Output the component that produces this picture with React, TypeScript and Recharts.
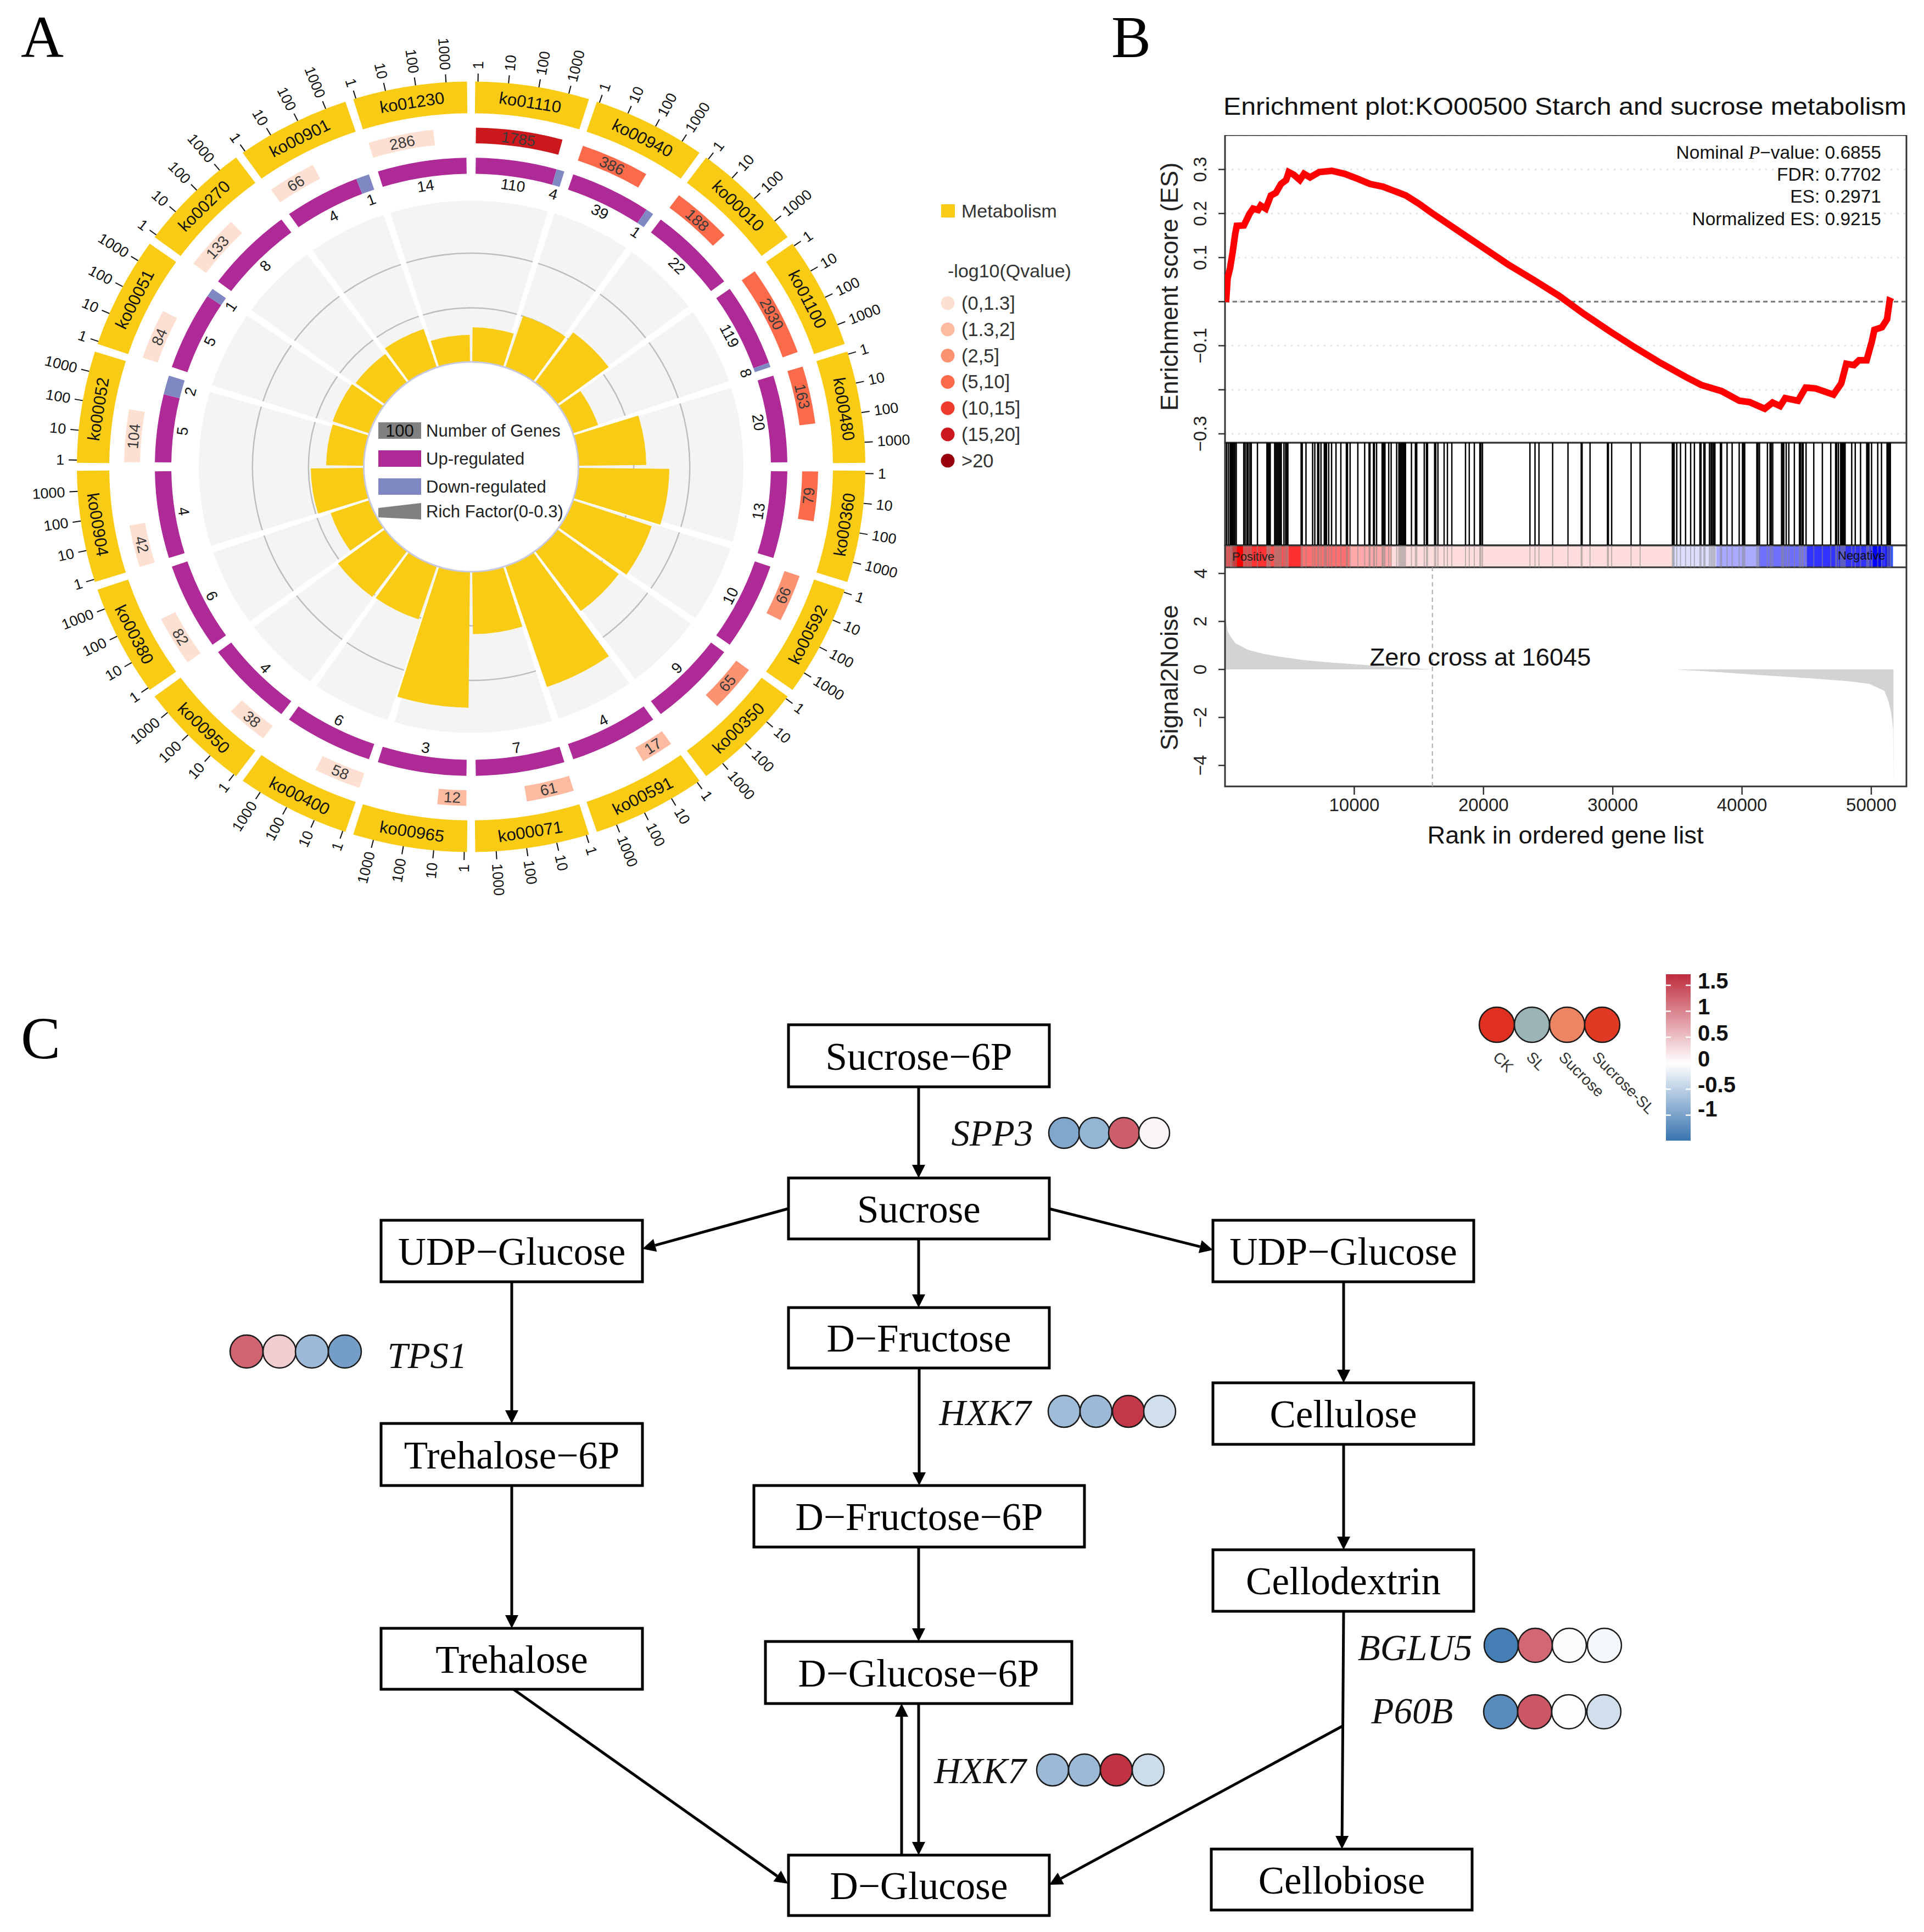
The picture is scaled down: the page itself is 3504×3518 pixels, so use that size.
import {
  PieChart,
  Pie,
  ComposedChart,
  ScatterChart,
  Scatter,
  Line,
  Area,
  XAxis,
  YAxis,
  CartesianGrid,
  ReferenceArea,
  ReferenceLine,
} from "recharts"

const SANS = "'Liberation Sans', Arial, sans-serif"
const SERIF = "'Liberation Serif', 'Times New Roman', serif"

/* ---------- panel A data, clockwise from 12 o'clock ---------- */
const pathways = [
  "ko01110", "ko00940", "ko00010", "ko01100", "ko00480", "ko00360", "ko00592", "ko00350", "ko00591", "ko00071",
  "ko00965", "ko00400", "ko00950", "ko00380", "ko00904", "ko00052", "ko00051", "ko00270", "ko00901", "ko01230",
]
const geneCounts = [1785, 386, 188, 2930, 163, 79, 66, 65, 17, 61, 12, 58, 38, 82, 42, 104, 84, 133, 66, 286]
const qClass = [5, 3, 3, 3, 3, 3, 2, 2, 1, 1, 1, 0, 0, 0, 0, 0, 0, 0, 0, 0]
const upGenes = [110, 39, 22, 119, 20, 13, 10, 9, 4, 7, 3, 6, 4, 6, 4, 5, 5, 8, 4, 14]
const downGenes = [4, 1, 0, 8, 0, 0, 0, 0, 0, 0, 0, 0, 0, 0, 0, 2, 1, 0, 1, 0]
// share of the ring the down-regulated part takes, as drawn
const downShare = [0.09, 0.09, 0, 0.05, 0, 0, 0, 0, 0, 0, 0, 0, 0, 0, 0, 0.22, 0.1, 0, 0.15, 0]
const richFactor = [
  0.064, 0.101, 0.116, 0.048, 0.123, 0.165, 0.151, 0.139, 0.237, 0.116,
  0.253, 0.104, 0.106, 0.074, 0.096, 0.068, 0.07, 0.066, 0.075, 0.05,
]
const tickDecades = ["1", "10", "100", "1000"]
const greyWedges = [36, 18, 18, 18, 36, 18, 18, 18, 36, 18, 18, 18, 36, 18, 18, 18]
const qLabels = ["(0,1.3]", "(1.3,2]", "(2,5]", "(5,10]", "(10,15]", "(15,20]", ">20"]
const qColors = ["#fee0d2", "#fcbba1", "#fc9272", "#fb6a4a", "#ef3b2c", "#cb181d", "#99000d"]

/* ---------- panel B data ---------- */
const esRanks = [
  80, 200, 390, 590, 790, 910, 1460, 1890, 2170, 2560, 2760, 3150, 3550, 3940, 4330, 4730, 4930, 5320, 5790, 6110,
  6580, 7290, 8270, 9260, 10240, 11230, 12210, 13200, 13990, 14970, 15960, 17930, 19900, 21870, 23840, 25810, 27780,
  29750, 31720, 33690, 35660, 36840, 38420, 39790, 40580, 41760, 42360, 42950, 43340, 44330, 44920, 45700, 47080,
  47670, 48070, 48660, 49050, 49640, 50040, 50240, 50830, 51220, 51420, 51650,
]
const esValues = [
  -0.001, 0.053, 0.076, 0.112, 0.154, 0.172, 0.173, 0.199, 0.211, 0.208, 0.218, 0.211, 0.241, 0.247, 0.267, 0.276,
  0.294, 0.288, 0.276, 0.29, 0.282, 0.294, 0.297, 0.29, 0.279, 0.267, 0.261, 0.25, 0.241, 0.223, 0.202, 0.163, 0.124,
  0.085, 0.05, 0.014, -0.028, -0.067, -0.104, -0.139, -0.171, -0.189, -0.203, -0.225, -0.228, -0.243, -0.229, -0.237,
  -0.219, -0.225, -0.195, -0.197, -0.211, -0.186, -0.141, -0.144, -0.133, -0.133, -0.091, -0.064, -0.058, -0.04, 0.002,
  -0.001,
]
const esTicks = [-0.3, -0.2, -0.1, 0, 0.1, 0.2, 0.3]
const hitRanks = [
  120, 256, 393, 461, 529, 597, 666, 768, 871, 1451, 1553, 1690, 1792, 1929, 2031, 2509, 3243, 3329, 3414, 3499, 3841,
  3926, 4011, 4097, 4182, 4267, 4353, 4558, 4694, 4780, 4865, 5889, 5975, 6265, 6777, 6947, 7169, 7255, 7425, 7682,
  7767, 7852, 8023, 8245, 8586, 8962, 9389, 9474, 9679, 10276, 10805, 11147, 11215, 11488, 11556, 11727, 12154, 12205,
  12290, 12376, 12666, 12854, 13280, 13451, 13537, 13622, 13707, 13793, 13878, 13963, 14424, 14731, 14834, 15414, 15585,
  15670, 16217, 16302, 16473, 16951, 17207, 17548, 18606, 18897, 19289, 19716, 19801, 19921, 23591, 23984, 24291, 25349,
  26535, 27559, 27627, 28242, 29590, 29659, 29915, 31417, 32117, 34609, 34678, 34746, 34951, 35241, 35633, 36026, 36316,
  36743, 36828, 37050, 37135, 37477, 37597, 37699, 37801, 37904, 38330, 38416, 38843, 39235, 39781, 40037, 40123, 40208,
  41147, 41232, 41352, 41966, 42171, 42257, 42376, 43059, 43144, 43229, 43417, 43622, 44049, 44441, 44526, 44646, 44732,
  44954, 45551, 46217, 46866, 47241, 47326, 47463, 47634, 47719, 47804, 47890, 47975, 48487, 48760, 49170, 49648, 49733,
  49818, 50023, 50501, 50792, 51219, 51304, 51390, 51475,
]
const bandStarts = [0, 520, 1400, 3240, 4900, 5900, 9650, 12900, 34600, 38000, 41300, 45000, 50100, 50800, 51100, 51500]
const bandEnds = [520, 1400, 3240, 4900, 5900, 9650, 12900, 34600, 38000, 41300, 45000, 50100, 50800, 51100, 51500, 51680]
const bandColors = [
  "#ff4444", "#ff0000", "#ff3333", "#ff5050", "#ff3030", "#ff7070", "#ffaaaa", "#ffdddd",
  "#ddddff", "#aaaaff", "#7070ff", "#3333ff", "#0000ff", "#3333ff", "#0000ff", "#3355ff",
]
const s2nRanks = [
  0, 200, 390, 790, 1770, 2960, 4140, 6110, 8080, 10050, 12020, 13990, 16045, 34870, 37630, 41570, 45510, 48270, 49840,
  51020, 51340, 51540, 51690, 51720,
]
const s2nValues = [
  2.3, 1.6, 1.4, 1.1, 0.82, 0.65, 0.54, 0.39, 0.29, 0.22, 0.14, 0.07, 0, 0, -0.09, -0.24, -0.38, -0.49, -0.6, -0.89,
  -1.35, -1.8, -2.5, -4.8,
]
const rankTicks = [10000, 20000, 30000, 40000, 50000]
const s2nTicks = [-4, -2, 0, 2, 4]

/* ---------- panel C data ---------- */
const geneNames = ["SPP3", "TPS1", "HXK7", "HXK7", "BGLU5", "P60B"]
const geneValues = [
  [-0.95, -0.8, 1.3, 0.08],
  [1.25, 0.4, -0.75, -1.05],
  [-0.72, -0.75, 1.6, -0.35],
  [-0.75, -0.75, 1.65, -0.38],
  [-1.4, 1.22, 0.03, -0.08],
  [-1.25, 1.35, 0.02, -0.35],
]
const groupNames = ["CK", "SL", "Sucrose", "Sucrose-SL"]
const groupColors = ["#e0301f", "#9ab4b8", "#ee8562", "#e03a25"]
const scaleTicks = [1.5, 1, 0.5, 0, -0.5, -1]
const scaleLabels = ["1.5", "1", "0.5", "0", "-0.5", "-1"]

// diagram layout, in figure pixels
const boxes: [string, number, number, number, number][] = [
  ["Sucrose−6P", 1436, 1866, 1911, 1979],
  ["Sucrose", 1436, 2145, 1911, 2256],
  ["D−Fructose", 1436, 2381, 1911, 2491],
  ["D−Fructose−6P", 1373, 2705, 1975, 2817],
  ["D−Glucose−6P", 1394, 2989, 1952, 3102],
  ["D−Glucose", 1436, 3378, 1911, 3488],
  ["UDP−Glucose", 694, 2222, 1170, 2334],
  ["Trehalose−6P", 694, 2592, 1170, 2705],
  ["Trehalose", 694, 2965, 1170, 3076],
  ["UDP−Glucose", 2209, 2222, 2684, 2334],
  ["Cellulose", 2209, 2518, 2684, 2630],
  ["Cellodextrin", 2209, 2822, 2684, 2934],
  ["Cellobiose", 2206, 3367, 2681, 3478],
]
const arrows = [
  [1673, 1979, 1673, 2145],
  [1673, 2256, 1673, 2381],
  [1674, 2491, 1674, 2705],
  [1673, 2817, 1673, 2989],
  [1673, 3102, 1673, 3378],
  [1642, 3378, 1642, 3102],
  [1435, 2201, 1170, 2274],
  [1911, 2201, 2209, 2276],
  [932, 2334, 932, 2592],
  [932, 2705, 932, 2965],
  [935, 3076, 1435, 3430],
  [2447, 2334, 2447, 2518],
  [2447, 2630, 2447, 2822],
  [2447, 2934, 2444, 3367],
  [2445, 3143, 1911, 3432],
]
const dotRows = [
  { xs: [1938, 1993, 2047, 2102], y: 2063, r: 28 },
  { xs: [449, 509, 568, 628], y: 2461, r: 30 },
  { xs: [1938, 1996, 2055, 2112], y: 2570, r: 29 },
  { xs: [1917, 1975, 2033, 2091], y: 3223, r: 29 },
  { xs: [2734, 2796, 2858, 2922], y: 2996, r: 31 },
  { xs: [2733, 2795, 2857, 2921], y: 3117, r: 31 },
]
const geneLabelSpots = [
  [1807, 2063],
  [778, 2468],
  [1794, 2572],
  [1785, 3224],
  [2577, 3000],
  [2572, 3115],
]
const groupLabelStarts = [2724, 2785, 2844, 2905]

/* ---------- helpers ---------- */
const YELLOW = "#f9cb14"
const PURPLE = "#ae2a96"
const BLUE = "#8088c4"
const RANK_MAX = 52720
const SECTOR = 18
const DECADE = 4.45

const mix = (hex: string, t: number) => {
  const c = [1, 3, 5].map((i) => parseInt(hex.slice(i, i + 2), 16))
  return `rgb(${c.map((v) => Math.round(255 + (v - 255) * t)).join(",")})`
}
const heatColor = (v: number) =>
  v >= 0 ? mix("#bf2c3d", Math.min(1, v / 1.7)) : mix("#3874b0", Math.min(1, -v / 1.5))

type Slice = { value: number; fill: string; caption?: string }

const outerSlices: Slice[] = pathways.map((p) => ({ value: 1, fill: YELLOW, caption: p }))

const qSlices: Slice[] = pathways.flatMap((_, i) => {
  const span = Math.log10(geneCounts[i]) * DECADE
  return [
    { value: 0.8, fill: "none" },
    { value: span, fill: qColors[qClass[i]], caption: String(geneCounts[i]) },
    { value: SECTOR - 0.8 - span, fill: "none" },
  ]
})

const regSlices: Slice[] = pathways.flatMap((_, i) => {
  const span = SECTOR - 1.7
  const down = span * downShare[i]
  const rows: Slice[] = [
    { value: 0.85, fill: "none" },
    { value: span - down, fill: PURPLE, caption: String(upGenes[i]) },
  ]
  if (downGenes[i] > 0) rows.push({ value: down, fill: BLUE, caption: String(downGenes[i]) })
  rows.push({ value: 0.85, fill: "none" })
  return rows
})

const tickSlices: Slice[] = pathways.flatMap(() => {
  const w = 0.16
  const rows: Slice[] = [{ value: 1 - w / 2, fill: "none" }]
  tickDecades.forEach((t, k) => {
    rows.push({ value: w, fill: "#111", caption: t })
    if (k < 3) rows.push({ value: DECADE - w, fill: "none" })
  })
  rows.push({ value: SECTOR - 1 - w / 2 - 3 * DECADE, fill: "none" })
  return rows
})

const wedgeSlices = greyWedges.map((value) => ({ value }))

// rotated ring captions; mode tells how the text follows the circle
const ringCaption =
  (rows: Slice[], radius: number, size: number, mode: "tangent" | "radial", fill: string) =>
  (p: any) => {
    const caption = rows[p.index]?.caption
    if (!caption) return <g />
    const theta = ((90 - p.midAngle) % 360 + 360) % 360
    const rad = (theta * Math.PI) / 180
    const x = p.cx + radius * Math.sin(rad)
    const y = p.cy - radius * Math.cos(rad)
    let rot = theta
    let anchor: "middle" | "start" | "end" = "middle"
    if (mode === "tangent") {
      rot = theta > 90 && theta < 270 ? theta - 180 : theta
    } else if (theta < 180) {
      rot = theta - 90
      anchor = "start"
    } else {
      rot = theta + 90
      anchor = "end"
    }
    return (
      <text
        x={x}
        y={y}
        transform={`rotate(${rot} ${x} ${y})`}
        textAnchor={anchor}
        dominantBaseline="central"
        fontFamily={SANS}
        fontSize={size}
        fill={fill}
      >
        {caption}
      </text>
    )
  }

const ring = {
  cx: 850,
  cy: 850,
  stroke: "none",
  dataKey: "value",
  labelLine: false,
  isAnimationActive: false,
}

const wedgeRing = {
  ...ring,
  data: wedgeSlices,
  startAngle: 107.25,
  endAngle: -252.75,
  paddingAngle: 1.5,
}

function CircosPanel() {
  return (
    <div style={{ position: "absolute", left: 8, top: 0, transform: "scaleY(0.977)" }}>
      <PieChart width={1700} height={1700} margin={{ top: 0, right: 0, bottom: 0, left: 0 }}>
        <Pie {...wedgeRing} innerRadius={196} outerRadius={496} fill="#f4f4f4" />
        <Pie {...wedgeRing} innerRadius={397} outerRadius={399.5} fill="#bdbdbd" />
        <Pie {...wedgeRing} innerRadius={295} outerRadius={297.5} fill="#bdbdbd" />
        {richFactor.map((v, i) => (
          <Pie
            key={pathways[i]}
            {...ring}
            data={[{ value: v }]}
            startAngle={90 - i * SECTOR - 0.6}
            endAngle={90 - i * SECTOR - SECTOR + 0.6}
            innerRadius={196}
            outerRadius={196 + v * 1000}
            fill={YELLOW}
          />
        ))}
        <Pie
          {...ring}
          data={[{ value: 1 }]}
          startAngle={90}
          endAngle={-270}
          innerRadius={194}
          outerRadius={197}
          fill="#c6c9df"
        />
        <Pie
          {...ring}
          data={regSlices}
          startAngle={90}
          endAngle={-270}
          innerRadius={546}
          outerRadius={576}
          label={ringCaption(regSlices, 530, 28, "tangent", "#111")}
        />
        <Pie
          {...ring}
          data={qSlices}
          startAngle={90}
          endAngle={-270}
          innerRadius={603}
          outerRadius={632}
          label={ringCaption(qSlices, 617, 28, "tangent", "#3a3a3a")}
        />
        <Pie
          {...ring}
          data={outerSlices}
          startAngle={89.4}
          endAngle={-270.6}
          paddingAngle={1.2}
          innerRadius={659}
          outerRadius={718}
          label={ringCaption(outerSlices, 688, 31, "tangent", "#111")}
        />
        <Pie
          {...ring}
          data={tickSlices}
          startAngle={90}
          endAngle={-270}
          innerRadius={718}
          outerRadius={733}
          label={ringCaption(tickSlices, 741, 27, "radial", "#111")}
        />
      </PieChart>
    </div>
  )
}

const SideTick = (labels: Record<string, string>) => (p: any) => {
  const text = labels[String(p.payload.value)]
  if (!text) return <g />
  const x = p.x - 31
  return (
    <text
      x={x}
      y={p.y}
      transform={`rotate(-90 ${x} ${p.y})`}
      textAnchor="middle"
      dominantBaseline="central"
      fontFamily={SANS}
      fontSize={33}
      fill="#222"
    >
      {text}
    </text>
  )
}

const esData = esRanks.map((rank, i) => ({ rank, es: esValues[i] }))
const s2nData = s2nRanks.map((rank, i) => ({ rank, s2n: s2nValues[i] }))

function EnrichmentPanel() {
  return (
    <>
      <div style={{ position: "absolute", left: 2050, top: 246 }}>
        <ComposedChart width={1454} height={600} data={esData} margin={{ top: 0, right: 32, bottom: 40, left: 0 }}>
          <CartesianGrid vertical={false} stroke="#e4e4e4" strokeWidth={3} strokeDasharray="3 9" />
          <XAxis dataKey="rank" type="number" domain={[0, RANK_MAX]} hide allowDataOverflow />
          <YAxis
            width={181}
            domain={[-0.32, 0.378]}
            ticks={esTicks}
            interval={0}
            allowDataOverflow
            axisLine={false}
            tickSize={12}
            tickMargin={2}
            tickLine={{ stroke: "#333", strokeWidth: 2.5 }}
            tick={SideTick({ "0.3": "0.3", "0.2": "0.2", "0.1": "0.1", "-0.1": "−0.1", "-0.3": "−0.3" })}
          />
          <ReferenceLine y={0} stroke="#777" strokeWidth={3} strokeDasharray="8 6" />
          <Line
            dataKey="es"
            type="linear"
            stroke="#ff0000"
            strokeWidth={12}
            dot={false}
            isAnimationActive={false}
          />
          <ReferenceArea
            x1={0}
            x2={RANK_MAX}
            y1={-0.32}
            y2={0.378}
            fill="none"
            fillOpacity={0}
            stroke="#333"
            strokeWidth={3}
            ifOverflow="visible"
          />
        </ComposedChart>
      </div>

      <div style={{ position: "absolute", left: 2050, top: 806 }}>
        <ComposedChart width={1454} height={227} margin={{ top: 0, right: 32, bottom: 0, left: 181 }}>
          <XAxis dataKey="rank" type="number" domain={[0, RANK_MAX]} hide allowDataOverflow />
          <YAxis type="number" domain={[0, 227]} hide allowDataOverflow />
          {bandColors.map((c, i) => (
            <ReferenceArea
              key={i}
              x1={bandStarts[i]}
              x2={bandEnds[i]}
              y1={0}
              y2={40}
              fill={c}
              fillOpacity={1}
              stroke="none"
            />
          ))}
          {hitRanks.map((r) => (
            <ReferenceLine
              key={r}
              segment={[
                { x: r, y: 40 },
                { x: r, y: 227 },
              ]}
              stroke="#000"
              strokeWidth={2.5}
            />
          ))}
          {hitRanks.map((r) => (
            <ReferenceLine
              key={`s${r}`}
              segment={[
                { x: r, y: 0 },
                { x: r, y: 40 },
              ]}
              stroke="#888"
              strokeOpacity={0.55}
              strokeWidth={2}
            />
          ))}
          <ReferenceArea
            x1={0}
            x2={RANK_MAX}
            y1={0}
            y2={40}
            fill="none"
            fillOpacity={0}
            stroke="#333"
            strokeWidth={3}
            ifOverflow="visible"
          />
          <ReferenceArea
            x1={0}
            x2={RANK_MAX}
            y1={40}
            y2={227}
            fill="none"
            fillOpacity={0}
            stroke="#333"
            strokeWidth={3}
            ifOverflow="visible"
          />
        </ComposedChart>
      </div>

      <div style={{ position: "absolute", left: 2050, top: 1033 }}>
        <ComposedChart width={1454} height={467} data={s2nData} margin={{ top: 0, right: 32, bottom: 0, left: 0 }}>
          <XAxis
            dataKey="rank"
            type="number"
            domain={[0, RANK_MAX]}
            allowDataOverflow
            ticks={rankTicks}
            interval={0}
            height={68}
            axisLine={false}
            tickSize={15}
            tickMargin={7}
            tickLine={{ stroke: "#333", strokeWidth: 2.5 }}
            tick={{ fontFamily: SANS, fontSize: 33, fill: "#222" }}
          />
          <YAxis
            width={181}
            domain={[-4.874, 4.256]}
            ticks={s2nTicks}
            interval={0}
            allowDataOverflow
            axisLine={false}
            tickSize={12}
            tickMargin={2}
            tickLine={{ stroke: "#333", strokeWidth: 2.5 }}
            tick={SideTick({ "4": "4", "2": "2", "0": "0", "-2": "−2", "-4": "−4" })}
          />
          <Area
            dataKey="s2n"
            type="linear"
            baseValue={0}
            fill="#d3d3d3"
            fillOpacity={1}
            stroke="none"
            dot={false}
            isAnimationActive={false}
          />
          <ReferenceLine x={16045} stroke="#aaaaaa" strokeWidth={2} strokeDasharray="8 6" />
          <ReferenceArea
            x1={0}
            x2={RANK_MAX}
            y1={-4.874}
            y2={4.256}
            fill="none"
            fillOpacity={0}
            stroke="#333"
            strokeWidth={3}
            ifOverflow="visible"
          />
        </ComposedChart>
      </div>
    </>
  )
}

const ArrowShape = (p: any) => {
  const { x1, y1, x2, y2 } = p
  const len = Math.hypot(x2 - x1, y2 - y1) || 1
  const ux = (x2 - x1) / len
  const uy = (y2 - y1) / len
  const bx = x2 - ux * 24
  const by = y2 - uy * 24
  return (
    <g>
      <line x1={x1} y1={y1} x2={bx} y2={by} stroke="#000" strokeWidth={5} />
      <polygon
        points={`${x2},${y2} ${bx - uy * 12},${by + ux * 12} ${bx + uy * 12},${by - ux * 12}`}
        fill="#000"
      />
    </g>
  )
}

const DotShape = (p: any) => (
  <circle cx={p.cx} cy={p.cy} r={p.payload.r} fill={p.payload.fill} stroke="#1a1a1a" strokeWidth={2.5} />
)

const geneDots = dotRows.flatMap((row, i) =>
  row.xs.map((x, k) => ({ x, y: row.y, r: row.r, fill: heatColor(geneValues[i][k]) })),
)
const legendDots = groupColors.map((fill, i) => ({ x: 2726 + i * 64, y: 1866, r: 32, fill }))
const scaleY = (v: number) => 1936 - 94.6 * v

function PathwayPanel() {
  return (
    <div style={{ position: "absolute", left: 0, top: 1700 }}>
      <ScatterChart width={3504} height={1818} margin={{ top: 0, right: 0, bottom: 0, left: 0 }}>
        <XAxis dataKey="x" type="number" domain={[0, 3504]} hide allowDataOverflow />
        <YAxis dataKey="y" type="number" domain={[1700, 3518]} reversed hide allowDataOverflow />
        {arrows.map((a, i) => (
          <ReferenceLine
            key={i}
            segment={[
              { x: a[0], y: a[1] },
              { x: a[2], y: a[3] },
            ]}
            shape={ArrowShape}
            ifOverflow="visible"
          />
        ))}
        {boxes.map(([name, x1, y1, x2, y2], i) => (
          <ReferenceArea
            key={i}
            x1={x1}
            x2={x2}
            y1={y1}
            y2={y2}
            fill="#fff"
            fillOpacity={1}
            stroke="#000"
            strokeWidth={5}
            label={{ value: name, position: "center", fontFamily: SERIF, fontSize: 71, fill: "#000" }}
          />
        ))}
        <ReferenceArea x1={3034} x2={3079} y1={1774} y2={2077} fill="url(#heatScale)" fillOpacity={1} stroke="none" />
        {scaleTicks.filter((v) => v !== 0).flatMap((v) => [
          <ReferenceLine
            key={`l${v}`}
            segment={[
              { x: 3034, y: scaleY(v) },
              { x: 3043, y: scaleY(v) },
            ]}
            stroke="#fff"
            strokeWidth={2.5}
          />,
          <ReferenceLine
            key={`r${v}`}
            segment={[
              { x: 3070, y: scaleY(v) },
              { x: 3079, y: scaleY(v) },
            ]}
            stroke="#fff"
            strokeWidth={2.5}
          />,
        ])}
        <Scatter data={geneDots} shape={DotShape} isAnimationActive={false} />
        <Scatter data={legendDots} shape={DotShape} isAnimationActive={false} />
      </ScatterChart>
    </div>
  )
}

type Note = {
  t: string
  x: number
  y: number
  size: number
  family?: string
  anchor?: "start" | "middle" | "end"
  rot?: number
  fill?: string
  len?: number
}

const notes: Note[] = [
  { t: "A", x: 38, y: 67, size: 108, family: SERIF },
  { t: "B", x: 2024, y: 67, size: 108, family: SERIF },
  { t: "C", x: 38, y: 1890, size: 108, family: SERIF },
  // circos centre legend
  { t: "100", x: 728, y: 784, size: 31, anchor: "middle", fill: "#111" },
  { t: "Number of Genes", x: 776, y: 784, size: 31, fill: "#222" },
  { t: "Up-regulated", x: 776, y: 835, size: 31, fill: "#222" },
  { t: "Down-regulated", x: 776, y: 886, size: 31, fill: "#222" },
  { t: "Rich Factor(0-0.3)", x: 776, y: 931, size: 31, fill: "#222" },
  // circos side legend
  { t: "Metabolism", x: 1751, y: 384, size: 34, fill: "#333" },
  { t: "-log10(Qvalue)", x: 1726, y: 493, size: 34, fill: "#333" },
  // enrichment plot
  { t: "Enrichment plot:KO00500 Starch and sucrose metabolism", x: 2228, y: 193, size: 45, len: 1244, fill: "#111" },
  { t: "FDR: 0.7702", x: 3426, y: 317, size: 33.5, anchor: "end", fill: "#111" },
  { t: "ES: 0.2971", x: 3426, y: 357, size: 33.5, anchor: "end", fill: "#111" },
  { t: "Normalized ES: 0.9215", x: 3426, y: 398, size: 33.5, anchor: "end", fill: "#111" },
  { t: "Enrichment score (ES)", x: 2129, y: 522, size: 45, anchor: "middle", rot: -90, fill: "#222" },
  { t: "Signal2Noise", x: 2129, y: 1234, size: 45, anchor: "middle", rot: -90, fill: "#222" },
  { t: "Rank in ordered gene list", x: 2851, y: 1520, size: 44, anchor: "middle", len: 503, fill: "#111" },
  { t: "Zero cross at 16045", x: 2696, y: 1196, size: 44, anchor: "middle", len: 403, fill: "#111" },
  { t: "Positive", x: 2244, y: 1013, size: 22, fill: "#222" },
  { t: "Negative", x: 3347, y: 1011, size: 22, fill: "#111" },
]

function Overlay() {
  return (
    <svg width={3504} height={3518} style={{ position: "absolute", left: 0, top: 0, pointerEvents: "none" }}>
      <defs>
        <linearGradient id="heatScale" x1="0" y1="0" x2="0" y2="1">
          <stop offset="0%" stopColor="#bf2c3d" />
          <stop offset="53.5%" stopColor="#ffffff" />
          <stop offset="100%" stopColor="#3874b0" />
        </linearGradient>
      </defs>
      {/* circos centre legend swatches */}
      <rect x={689} y={769} width={78} height={30} fill="#808080" />
      <rect x={689} y={820} width={78} height={30} fill={PURPLE} />
      <rect x={689} y={871} width={78} height={30} fill={BLUE} />
      <polygon points="689,925 767,916 767,946 689,942" fill="#808080" />
      {/* circos side legend */}
      <rect x={1714} y={372} width={25} height={24} fill={YELLOW} />
      {qLabels.map((label, i) => (
        <g key={label}>
          <circle cx={1726} cy={552 + i * 47.8} r={12.5} fill={qColors[i]} />
          <text
            x={1751}
            y={552 + i * 47.8}
            dominantBaseline="central"
            fontFamily={SANS}
            fontSize={34.5}
            fill="#333"
          >
            {label}
          </text>
        </g>
      ))}
      <text
        x={3426}
        y={277}
        textAnchor="end"
        dominantBaseline="central"
        fontFamily={SANS}
        fontSize={33.5}
        fill="#111"
      >
        Nominal{" "}
        <tspan fontFamily={SERIF} fontStyle="italic">
          P
        </tspan>
        −value: 0.6855
      </text>
      {geneNames.map((name, i) => (
        <text
          key={i}
          x={geneLabelSpots[i][0]}
          y={geneLabelSpots[i][1]}
          textAnchor="middle"
          dominantBaseline="central"
          fontFamily={SERIF}
          fontStyle="italic"
          fontSize={67}
          fill="#111"
        >
          {name}
        </text>
      ))}
      {scaleTicks.map((v, i) => (
        <text
          key={v}
          x={3092}
          y={scaleY(v) - (v === -1 ? 12 : 8)}
          dominantBaseline="central"
          fontFamily={SANS}
          fontWeight="bold"
          fontSize={40}
          fill="#111"
        >
          {scaleLabels[i]}
        </text>
      ))}
      {groupNames.map((name, i) => (
        <text
          key={name}
          x={groupLabelStarts[i]}
          y={1920}
          transform={`rotate(45 ${groupLabelStarts[i]} 1920)`}
          dominantBaseline="central"
          fontFamily={SANS}
          fontSize={28}
          fill="#333"
        >
          {name}
        </text>
      ))}
      {notes.map((n) => (
        <text
          key={n.t}
          x={n.x}
          y={n.y}
          transform={n.rot ? `rotate(${n.rot} ${n.x} ${n.y})` : undefined}
          textAnchor={n.anchor ?? "start"}
          dominantBaseline="central"
          fontFamily={n.family ?? SANS}
          fontSize={n.size}
          fill={n.fill ?? "#000"}
          textLength={n.len}
          lengthAdjust={n.len ? "spacingAndGlyphs" : undefined}
        >
          {n.t}
        </text>
      ))}
    </svg>
  )
}

export default function App() {
  return (
    <div style={{ position: "absolute", left: 0, top: 0, width: 3504, height: 3518, background: "#fff" }}>
      <CircosPanel />
      <EnrichmentPanel />
      <PathwayPanel />
      <Overlay />
    </div>
  )
}
